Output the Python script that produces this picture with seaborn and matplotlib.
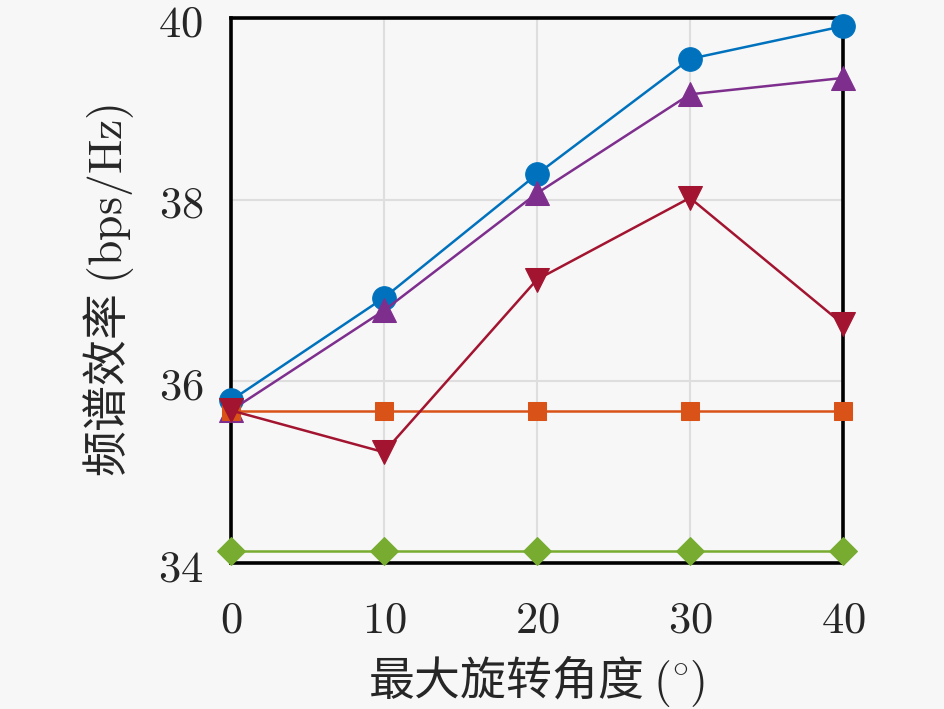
import matplotlib
matplotlib.use('Agg')
import matplotlib.pyplot as plt
import seaborn as sns
import pandas as pd

#   data
angles = [0, 10, 20, 30, 40]
circle_vals = [35.79, 36.92, 38.28, 39.55, 39.91]
up_vals = [35.68, 36.78, 38.07, 39.16, 39.34]
square_vals = [35.67, 35.67, 35.67, 35.67, 35.67]
diamond_vals = [34.13, 34.13, 34.13, 34.13, 34.13]
down_vals = [35.68, 35.22, 37.12, 38.02, 36.63]
yticks = [34, 36, 38, 40]

series = ['s1', 's2', 's3', 's4', 's5']
values = [circle_vals, up_vals, square_vals, diamond_vals, down_vals]
colors = ['#0072BD', '#7E2F8E', '#D95319', '#77AC30', '#A2142F']
markers = ['o', '^', 's', 'D', 'v']
msizes = [17, 17, 13, 14, 17]

df = pd.DataFrame({
    'angle': angles * len(series),
    'value': sum(values, []),
    'series': [s for s in series for _ in angles],
})

sns.set_style('white')
plt.rcParams['font.family'] = ['Noto Sans CJK SC', 'DejaVu Sans']
plt.rcParams['mathtext.fontset'] = 'cm'

bg = '#f7f7f7'
fig = plt.figure(figsize=(9.45, 7.09), dpi=100, facecolor=bg)
ax = fig.add_axes([0.2444, 0.2059, 0.6476, 0.7687])
ax.set_facecolor(bg)

for s, c, m, ms in zip(series, colors, markers, msizes):
    sns.lineplot(data=df[df['series'] == s], x='angle', y='value', color=c,
                 marker=m, markersize=ms, markeredgecolor=c, linewidth=1.8,
                 ax=ax, legend=False, zorder=5, clip_on=False)

ax.set_xlim(0, 40)
ax.set_ylim(34, 40)
ax.set_xticks(angles)
ax.set_yticks(yticks)
ax.set_xticklabels(['$%d$' % a for a in angles], fontsize=32)
ax.set_yticklabels(['$%d$' % v for v in yticks], fontsize=32)
ax.tick_params(direction='in', length=4, width=1)
ax.tick_params(axis='x', pad=24)
ax.tick_params(axis='y', pad=20)
ax.grid(True, color='#dedede', linewidth=1.5)
for sp in ax.spines.values():
    sp.set_visible(True)
    sp.set_color('black')
    sp.set_linewidth(2.6)
    sp.set_zorder(4)

ax.set_xlabel(r'最大旋转角度 $(\!^\circ\!)$', fontsize=33, labelpad=8)
ax.set_ylabel(r'频谱效率 $(\mathrm{bps/Hz})$', fontsize=33, labelpad=16)

fig.savefig('out.png', dpi=100, facecolor=bg)
